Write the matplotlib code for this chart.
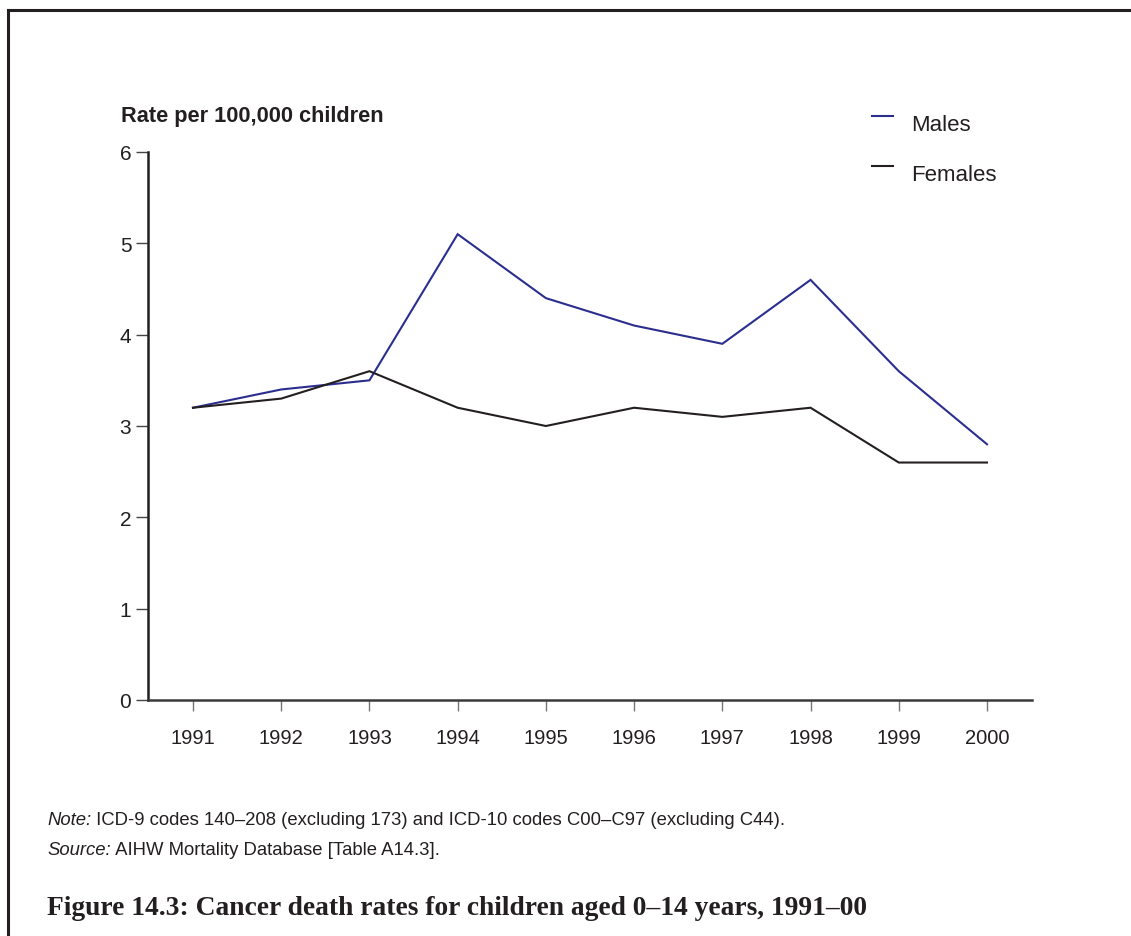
import matplotlib
matplotlib.use("Agg")
import matplotlib.pyplot as plt
from matplotlib.lines import Line2D

years = [1991, 1992, 1993, 1994, 1995, 1996, 1997, 1998, 1999, 2000]
males = [3.2, 3.4, 3.5, 5.1, 4.4, 4.1, 3.9, 4.6, 3.6, 2.8]
females = [3.2, 3.3, 3.6, 3.2, 3.0, 3.2, 3.1, 3.2, 2.6, 2.6]
y_ticks = [0, 1, 2, 3, 4, 5, 6]
series_labels = ["Males", "Females"]

plt.rcParams['font.family'] = ['Liberation Sans', 'DejaVu Sans']

W, H = 1131, 937
fig = plt.figure(figsize=(W / 100, H / 100), dpi=100)

def fx(px):
    return px / W

def fy(py):
    return 1 - py / H

ax = fig.add_axes([fx(148), fy(701), fx(1032) - fx(148), fy(153) - fy(701)])

male_col = '#2b2e8f'
fem_col = '#231f20'
ax.plot(years, males, color=male_col, lw=1.5, solid_joinstyle='miter')
ax.plot(years, females, color=fem_col, lw=1.5, solid_joinstyle='miter')

ax.set_xlim(1990.49, 2000.51)
ax.set_ylim(0, 6)
ax.set_yticks(y_ticks)
ax.set_xticks(years)
ax.set_xticklabels([str(y) for y in years])
for s in ['top', 'right']:
    ax.spines[s].set_visible(False)
ax.spines['left'].set_color('#231f20')
ax.spines['left'].set_linewidth(1.8)
ax.spines['bottom'].set_color('#3a3a3a')
ax.spines['bottom'].set_linewidth(1.8)
ax.tick_params(axis='y', direction='out', length=8.6, width=1.0, color='#444444',
               labelsize=15, pad=3.4, labelcolor='#231f20')
ax.tick_params(axis='x', direction='out', length=8.0, width=1.0, color='#777777',
               labelsize=14.5, pad=12.5, labelcolor='#231f20')

fig.text(fx(121), fy(116.5), "Rate per 100,000 children", fontsize=15.7,
         fontweight='bold', ha='left', va='center', color='#231f20')

# legend
for lab, col, ly in [(series_labels[0], male_col, 117), (series_labels[1], fem_col, 167)]:
    fig.add_artist(Line2D([fx(872), fx(893)], [fy(ly), fy(ly)], color=col, lw=1.5,
                          transform=fig.transFigure))
    fig.text(fx(911), fy(ly + 8.5), lab, fontsize=16, ha='left', va='center',
             color='#231f20')


def mixed(x, y, parts, size):
    renderer = fig.canvas.get_renderer()
    cur = x
    for txt, style in parts:
        tt = fig.text(cur, y, txt, fontsize=size, style=style, ha='left', va='center',
                      color='#231f20')
        bb = tt.get_window_extent(renderer=renderer)
        cur = cur + bb.width / W

mixed(fx(47), fy(821), [("Note:", 'italic'),
      (" ICD-9 codes 140\u2013208 (excluding 173) and ICD-10 codes C00\u2013C97 (excluding C44).", 'normal')], 13.3)
mixed(fx(47), fy(851), [("Source:", 'italic'),
      (" AIHW Mortality Database [Table A14.3].", 'normal')], 13.3)

fig.text(fx(47), fy(909), "Figure 14.3: Cancer death rates for children aged 0\u201314 years, 1991\u201300",
         fontsize=19.8, fontweight='bold', family=['Liberation Serif', 'DejaVu Serif'],
         ha='left', va='center', color='#231f20')

# page border (top and left)
fig.add_artist(Line2D([fx(8), 1.0], [fy(11), fy(11)], color='#231f20', lw=2.2,
                      transform=fig.transFigure))
fig.add_artist(Line2D([fx(8), fx(8)], [fy(11), 0.0], color='#231f20', lw=2.2,
                      transform=fig.transFigure))

fig.savefig("out.png", dpi=100, facecolor='white')
